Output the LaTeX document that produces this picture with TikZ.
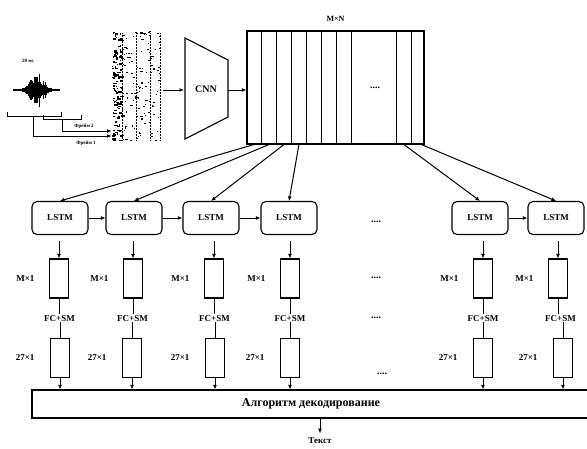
\documentclass[tikz,border=0pt]{standalone}
\usepackage{fontspec}
\setmainfont{Liberation Serif}
\usetikzlibrary{arrows.meta, positioning, calc}

\tikzset{
  lstm/.style={draw, line width=1.1pt, rounded corners=5pt, minimum width=56pt, minimum height=33pt, inner sep=0pt, font=\bfseries\small},
  vec/.style={draw, line width=1.1pt, minimum width=19pt, minimum height=39pt, inner sep=0pt},
  arr/.style={-{Latex[length=4.5pt,width=4pt]}, line width=1pt},
  dim/.style={font=\bfseries\small, inner sep=1pt},
  tiny lbl/.style={font=\bfseries\fontsize{5}{6}\selectfont, inner sep=0.5pt},
}

\begin{document}
\begin{tikzpicture}[x=1pt, y=-1pt, font=\bfseries, line width=1pt]
  \useasboundingbox (0,0) rectangle (587,448);

  % --- signal, frames ---
  \node[tiny lbl] (dur) at (28,61) {20 мс};
  \pgfmathsetseed{11}
  \foreach \i in {0,...,46} {
    \pgfmathsetmacro\xx{13+\i}
    \pgfmathsetmacro\hh{17*exp(-((\i-24)/9)^2)*(0.3+0.7*rnd)+1}
    \draw[line width=0.7pt] (\xx,90-\hh) -- (\xx,90+\hh);
  }
  \draw[line width=1.2pt] (13,90) -- (60,90);

  % spectrogram
  \node[minimum width=50pt, minimum height=112pt, inner sep=0pt] (spec) at (137,87) {};
  \foreach \i in {1,...,170} {
    \pgfmathsetmacro\sx{112+47*rnd}
    \pgfmathsetmacro\sy{31+110*rnd}
    \pgfmathsetmacro\sw{0.6+2*rnd}
    \fill (\sx,\sy) rectangle ++(\sw,1.1);
  }
  \foreach \i in {1,...,90} {
    \pgfmathsetmacro\sx{112+9*rnd}
    \pgfmathsetmacro\sy{31+110*rnd}
    \pgfmathsetmacro\sw{1+3*rnd}
    \fill (\sx,\sy) rectangle ++(\sw,1.6);
  }
  \foreach \d in {122,136,150,160}
    \draw[line width=0.5pt, densely dotted] (\d,33) -- (\d,140);

  % frame brackets
  \coordinate (b1) at (33,116);
  \coordinate (b2) at (62,119);
  \draw (7,112) -- (7,116) -- (61,116) -- (61,112);
  \draw (43,115) -- (43,119) -- (81,119) -- (81,115);
  \draw[arr] (b2) |- (spec.west |- 0,131);
  \draw[arr] (b1) |- (spec.west |- 0,136);
  \node[tiny lbl] (fr2) at (84,126) {Фрейм 2};
  \node[tiny lbl] (fr1) at (86,143) {Фрейм 1};

  % --- CNN ---
  \draw[line width=1.1pt] (185,38) -- (228,60) -- (228,117) -- (185,139) -- cycle;
  \node (cnn) at (206,89) {CNN};
  \coordinate (cnnin) at (184,90);
  \coordinate (cnnout) at (228,90);
  \draw[arr] (spec.east |- cnnin) -- (cnnin);

  % --- feature map M x N ---
  \node[draw, line width=1.1pt, minimum width=177pt, minimum height=113pt, inner sep=0pt] (mat) at (335.5,87.5) {};
  \foreach \d in {15,30,45,60,75,90,105,150,165}
    \draw[line width=1.1pt] ($(mat.north west)+(\d,0)$) -- ($(mat.south west)+(\d,0)$);
  \node[above=5pt of mat, font=\bfseries\footnotesize] (mn) {M×N};
  \node (mdots) at (375,88) {....};
  \draw[arr] (cnnout) -- (cnnout -| mat.west);

  % --- LSTM row ---
  \foreach \x/\n in {60/1,134/2,211/3,289/4,480/5,556/6}
    \node[lstm] (l\n) at (\x,218) {LSTM};
  \foreach \d/\n in {7.5/1,22.5/2,37.5/3,52.5/4,157.5/5,175/6}
    \draw[arr] ($(mat.south west)+(\d,0)$) -- (l\n.north);
  \foreach \a/\b in {1/2,2/3,3/4,5/6}
    \draw[arr] (l\a) -- (l\b);
  \node (ldots) at (376,222) {....};

  % --- outputs per step ---
  \foreach \n/\mx/\ox in {1/59/60,2/133/132,3/214/215,4/290/290,5/483/483,6/558/563} {
    \node[vec] (m\n) at (\mx,278.5) {};
    \node[vec] (o\n) at (\ox,358) {};
    \node[dim, left=13pt of m\n] (ml\n) {M×1};
    \node[dim, left=14pt of o\n] (ol\n) {27×1};
    \node[dim, fill=white, inner sep=0.5pt] (f\n) at ($(m\n.south)!0.5!(o\n.north)$) {FC+SM};
    \draw[arr, shorten <=6pt] (l\n.south -| m\n.north) -- (m\n.north);
    \draw (m\n.south) -- (f\n.north -| m\n.south);
    \draw (f\n.south -| o\n.north) -- (o\n.north);
  }
  \node (mdots2) at (376,278) {....};
  \node (fdots) at (376,318) {....};
  \node (odots) at (382,374) {....};

  % --- decoding ---
  \node[draw, line width=1.1pt, minimum width=558pt, minimum height=28pt, inner sep=0pt, font=\bfseries\large] (dec) at (311,404) {Алгоритм декодирование};
  \foreach \n in {1,...,6}
    \draw[arr] (o\n.south) -- (o\n.south |- dec.north);
  \node[font=\bfseries\small] (txt) at (320,441) {Текст};
  \draw[arr, shorten >=1pt] (dec.south -| txt.north) -- (txt.north);
\end{tikzpicture}
\end{document}
